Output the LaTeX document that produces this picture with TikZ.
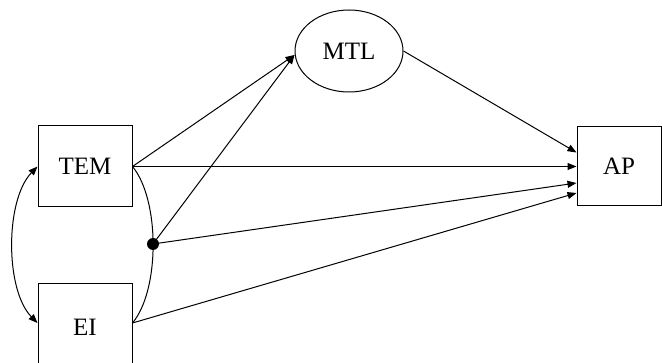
\documentclass[tikz,border=0pt]{standalone}
\usepackage{fontspec}
\setmainfont{Liberation Serif}
\usetikzlibrary{arrows.meta,shapes.geometric}
\begin{document}
\begin{tikzpicture}[x=1pt,y=-1pt,
  every node/.style={font=\fontsize{25}{29}\selectfont},
  var/.style={draw, line width=1pt, inner sep=0pt},
  path/.style={line width=1pt, -{Triangle[length=9pt,width=7pt]}},
  link/.style={line width=1pt}]
\useasboundingbox (0,0) rectangle (662,363);
\clip (0,0) rectangle (662,363);

% observed and latent variables
\node[var, minimum width=94pt, minimum height=81pt] (TEM) at (85,166.5) {TEM};
\node[var, minimum width=94pt, minimum height=86pt] (EI) at (85,327) {EI};
\node[var, ellipse, minimum width=108pt, minimum height=82pt] (MTL) at (349,51) {MTL};
\node[var, minimum width=84pt, minimum height=79pt] (AP) at (619,166.5) {AP};

% interaction term TEM x EI
\coordinate (EIr) at ([yshift=4pt]EI.east);
\draw[link] (TEM.east) .. controls (160,200) and (160,290) .. (EIr);
\node[circle, fill=black, inner sep=0pt, minimum size=12pt] (INT) at (153,244) {};

% covariance between TEM and EI
\draw[line width=1pt, {Triangle[length=9pt,width=7pt]}-{Triangle[length=9pt,width=7pt]}]
  (TEM.west) .. controls (5,200) and (5,290) .. ([yshift=4pt]EI.west);

% structural paths
\coordinate (MTLin) at ([yshift=-4pt]MTL.west);
\draw[path] (TEM.east) -- (MTLin);
\draw[path] (INT.center) -- (MTLin);
\draw[path] (MTL.east) -- ([yshift=14pt]AP.west);
\draw[path] (TEM.east) -- (AP.west);
\draw[path] (INT.center) -- ([yshift=-16.5pt]AP.west);
\draw[path] (EIr) -- ([yshift=-26.5pt]AP.west);
\end{tikzpicture}
\end{document}
